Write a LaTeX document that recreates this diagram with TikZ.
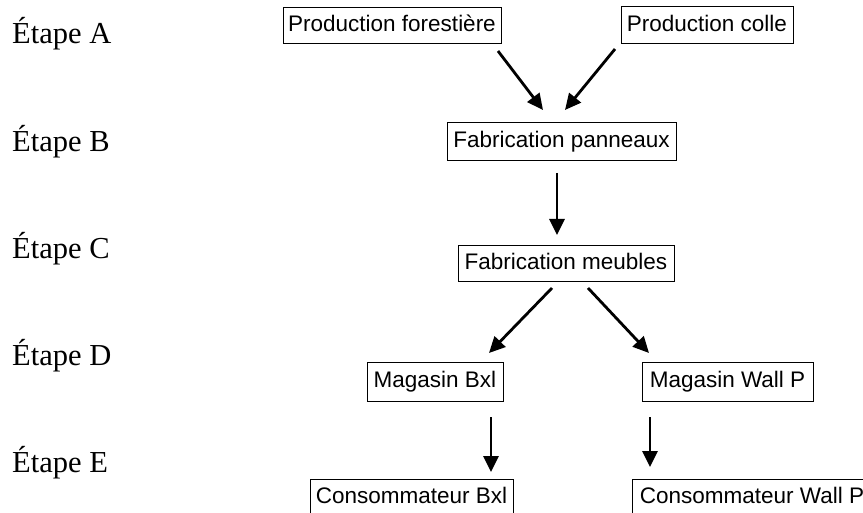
\documentclass[tikz,border=0pt]{standalone}
\usepackage{fontspec}
\setmainfont{Liberation Serif}
\newfontfamily\boxfont{Liberation Sans}
\usetikzlibrary{arrows.meta}
\begin{document}
\begin{tikzpicture}[x=1pt,y=-1pt,
  box/.style={draw, line width=1pt, inner sep=0pt,
    font=\boxfont\fontsize{22.5}{25}\selectfont,
    text height=16.5pt, text depth=4.8pt, minimum height=36pt},
  etape/.style={anchor=base west, inner sep=0pt, font=\fontsize{30.5}{34}\selectfont},
  arr/.style={line width=2.8pt, -{Triangle[length=16pt,width=15pt]}}]
\useasboundingbox (0,0) rectangle (863,513);
\clip (0,0) rectangle (863,513);
\fill[white] (0,0) rectangle (863,513);

% step labels
\node[etape] (ea) at (12,44) {Étape A};
\node[etape] (eb) at (12,152) {Étape B};
\node[etape] (ec) at (12,259) {Étape C};
\node[etape] (ed) at (12,366) {Étape D};
\node[etape] (ee) at (12,472) {Étape E};

% boxes
\node[box, minimum width=218pt, minimum height=36pt] (pf) at (392,26) {Production forestière};
\node[box, minimum width=172pt, minimum height=37pt] (pc) at (707,25.5) {Production colle};
\node[box, minimum width=229pt, minimum height=38pt] (fp) at (561.5,142) {Fabrication panneaux};
\node[box, minimum width=216pt, minimum height=36pt] (fm) at (566,264) {Fabrication meubles};
\node[box, minimum width=136pt, minimum height=38pt] (mb) at (435,382) {Magasin Bxl};
\node[box, minimum width=171pt, minimum height=38pt] (mw) at (727.5,382) {Magasin Wall P};
\node[box, minimum width=203pt, minimum height=37pt] (cb) at (411.5,497.5) {Consommateur Bxl};
\node[box, minimum width=240pt, minimum height=37pt] (cw) at (752,497.5) {Consommateur Wall P};

% arrow end points
\coordinate (a1s) at (498,51);  \coordinate (a1e) at (543,110);
\coordinate (a2s) at (615,49);  \coordinate (a2e) at (565,110);
\coordinate (a3s) at (557,173); \coordinate (a3e) at (557,235);
\coordinate (a4s) at (552,288); \coordinate (a4e) at (489,353);
\coordinate (a5s) at (588,288); \coordinate (a5e) at (649,353);
\coordinate (a6s) at (491,417); \coordinate (a6e) at (491,472);
\coordinate (a7s) at (650,417); \coordinate (a7e) at (650,467);

\draw[arr] (a1s) -- (a1e);
\draw[arr] (a2s) -- (a2e);
\draw[arr] (a3s) -- (a3e);
\draw[arr] (a4s) -- (a4e);
\draw[arr] (a5s) -- (a5e);
\draw[arr] (a6s) -- (a6e);
\draw[arr] (a7s) -- (a7e);
\end{tikzpicture}
\end{document}
